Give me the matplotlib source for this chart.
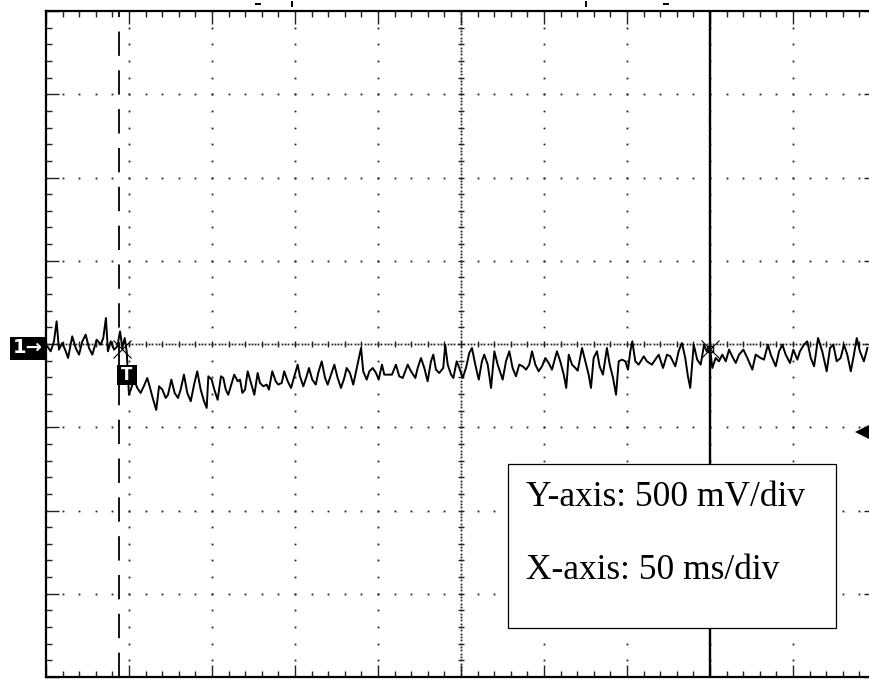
import numpy as np
import matplotlib.pyplot as plt
from matplotlib.patches import Rectangle
from matplotlib.transforms import blended_transform_factory

# Channel 1 capture: time from left edge of screen (ms) and voltage (mV)
t_ms = [
    # before trigger
    0.8, 2.8, 4.8, 6.4, 7.8, 9.8, 11.9, 13.3, 15.8, 17.9, 19.9, 21.9, 23.9,
    25.9, 27.9, 30.5, 33.0, 34.5, 36.1, 37.3, 39.0, 41.0, 43.0, 44.6, 46.0,
    47.4, 48.6,
    # drop after trigger
    50.0, 51.4, 53.0, 55.0, 57.0, 59.0, 61.0, 62.7, 64.0, 66.4, 68.1, 70.1,
    72.1, 73.5, 75.5, 77.5, 79.5, 81.1, 83.1, 85.1, 87.2, 89.2, 91.1, 93.2,
    95.2, 96.8,
    97.8, 99.8, 101.4, 103.4, 105.4, 106.8, 108.3, 109.8, 111.9, 113.4, 115.5,
    116.9, 118.3, 119.9, 121.5, 123.5, 125.5, 127.5, 128.9, 130.9, 133.0,
    134.3, 136.3, 138.4, 139.9, 142.0, 143.5, 145.6, 147.6, 149.6, 151.6,
    153.0, 155.0, 157.0, 158.4, 160.4, 162.5, 164.0, 166.1, 168.1, 169.7,
    171.7, 173.7, 175.7, 177.7, 179.7, 181.1, 183.1, 185.1, 187.2, 188.7,
    189.8, 191.1, 193.2,
    194.8, 196.8, 198.8, 200.4, 202.4, 203.8, 205.8, 208.4, 210.8, 212.8,
    214.9, 217.9, 219.9, 222.5, 223.9, 225.9, 227.9, 229.9, 231.9, 233.3,
    234.9, 236.9, 239.3, 240.5, 242.0, 244.0, 245.4, 247.4, 249.0, 251.0,
    253.0, 255.0, 256.6, 258.6, 260.7, 262.6, 264.0, 266.1, 268.1, 270.1,
    272.1, 275.1, 277.1, 279.1, 281.1, 283.1, 285.1, 287.2, 289.2, 291.1,
    # recovery
    292.8, 294.8, 296.8, 298.8, 300.8, 302.8, 304.8, 307.8, 309.8, 311.9,
    313.4, 314.9, 316.9, 318.9, 320.3, 322.9, 324.9, 326.9, 328.3, 329.9,
    331.9, 333.5, 335.5, 337.9, 339.6, 341.6, 343.4, 345.0, 347.0, 349.0,
    350.6, 352.0, 353.2, 355.0, 357.0, 360.1, 362.0, 365.0, 367.0, 369.1,
    371.7, 374.1, 376.1, 379.1, 381.1, 383.1, 385.1, 386.7, 388.1, 390.2,
    392.3, 394.4, 396.4, 398.0, 400.0, 401.4, 403.4, 405.4, 407.4, 409.5,
    411.5, 413.4, 415.5, 417.5, 420.1, 422.5, 425.5, 427.5, 430.5, 432.5,
    434.9, 436.6, 439.6, 441.6, 443.6, 445.6, 448.2, 450.2, 452.6, 454.2,
    456.6, 458.6, 460.7, 462.7, 465.1, 467.6, 470.3, 472.3, 474.3, 476.3,
    478.7, 480.7, 482.7, 484.8, 486.7, 488.4, 490.3, 492.7, 494.8,
]
v_mv = [
    -14, -44, 16, 136, -34, 6, -44, -84, 46, -24, -64, 16, 56,
    -24, -64, 26, -4, 36, 156, -44, 16, -34, -14, 76, -24,
    36, -44,
    -305, -264, -214, -264, -294, -252, -204, -264, -314, -396, -254, -274,
    -324, -305, -214, -294, -324, -274, -184, -294, -344, -244, -164, -274,
    -344, -384,
    -194, -214, -274, -335, -194, -204, -274, -305, -234, -184, -224,
    -214, -294, -274, -164, -234, -305, -174, -234, -254, -244,
    -274, -164, -224, -244, -234, -164, -224, -264, -194, -124,
    -194, -254, -194, -144, -214, -244, -174, -104, -204, -244,
    -184, -124, -204, -264, -204, -144, -174, -244, -144, -74,
    -24, -164, -214,
    -164, -144, -174, -214, -124, -184, -184, -184, -124, -194,
    -204, -124, -164, -204, -144, -84, -144, -224, -104, -64,
    -154, -174, -144, -4, -124, -184, -204, -104, -144, -204,
    -144, -54, -24, -124, -214, -104, -64, -124, -264, -44,
    -124, -214, -104, -44, -144, -194, -124, -134, -154, -124,
    -44, -124, -164, -134, -84, -114, -154, -44, -104, -184,
    -264, -64, -124, -144, -160, -24, -104, -184, -264, -84,
    -44, -134, -184, -24, -124, -204, -305, -104, -94, -104,
    -154, -44, 16, -104, -124, -74, -104, -124, -94, -64,
    -144, -64, -74, -134, -44, 6, -84, -194, -264, -4,
    -94, -124, -4, -44, -24, -144, -84, -104, -64, -104,
    -34, -74, -114, -64, -34, -84, -154, -64, -84, -94,
    -4, -64, -134, -44, -4, -64, -114, -34, -94, -44,
    -4, 16, -84, -134, 36, -44, -164, -24, -4, -104,
    -84, -4, -64, -164, -64, 36, -44, -104, -24,
]

ms_per_div = 50
mv_per_div = 500
n_xdiv, n_ydiv = 10, 8
trigger_ms = 44          # trigger point (dashed line)
cursor_ms = 400          # time cursor (solid line)
trig_level_mv = -528     # trigger level arrow on the right
top_marks_ms = [127.7, 148.2, 325.3, 373.5]
top_marks_sym = ['_', '|', '|', '_']
labels = ["Y-axis: 500 mV/div", "X-axis: 50 ms/div"]

W, H = 869, 679
fig = plt.figure(figsize=(W / 100, H / 100), dpi=100)
fig.patch.set_facecolor('white')


def fig_xy(x, y):
    return x / W, 1 - y / H


ax = fig.add_axes([46 / W, 2 / H, 830 / W, 666 / H])
xmax = n_xdiv * ms_per_div
ymax = n_ydiv / 2 * mv_per_div
ax.set_xlim(0, xmax)
ax.set_ylim(-ymax, ymax)
for s in ax.spines.values():
    s.set_linewidth(1.6)

# graticule: dotted division lines
xmaj = np.arange(0, xmax + 1, ms_per_div)
ymaj = np.arange(-ymax, ymax + 1, mv_per_div)
xmin_ = np.arange(0, xmax + 1, ms_per_div / 5)
ymin_ = np.arange(-ymax, ymax + 1, mv_per_div / 5)
dot = dict(marker='s', ms=1.3, mew=0, color='#222222', ls='none')
for x in xmaj[1:-1]:
    if x != xmax / 2:
        ax.plot(np.full(len(ymin_), x), ymin_, **dot)
for y in ymaj[1:-1]:
    if y != 0:
        ax.plot(xmin_, np.full(len(xmin_), y), **dot)

# centre cross: finer dots with minor ticks
xfine = np.arange(0, xmax + 0.1, ms_per_div / 25)
yfine = np.arange(-ymax, ymax + 0.1, mv_per_div / 25)
ax.plot(xfine, np.zeros(len(xfine)), **dot)
ax.plot(np.full(len(yfine), xmax / 2), yfine, **dot)
ax.plot(xmin_, np.zeros(len(xmin_)), marker='|', ms=4.5, mew=1.0,
        color='#222222', ls='none')
ax.plot(np.full(len(ymin_), xmax / 2), ymin_, marker='_', ms=4.5, mew=1.0,
        color='#222222', ls='none')

ax.set_xticks(xmaj)
ax.set_yticks(ymaj)
ax.set_xticks(xmin_, minor=True)
ax.set_yticks(ymin_, minor=True)
ax.tick_params(which='both', direction='in', top=True, right=True,
               labelbottom=False, labelleft=False, color='#222222')
ax.tick_params(which='major', length=9, width=1.0)
ax.tick_params(which='minor', length=4, width=1.0)

# trigger position and time cursor
ax.plot([trigger_ms, trigger_ms], [-ymax, ymax], color='k', lw=1.3,
        dashes=(13.5, 8))
ax.axvline(cursor_ms, color='k', lw=1.7)

# signal
ax.plot(t_ms, v_mv, color='k', lw=1.4, zorder=3)

# cursor crossings
ax.plot([trigger_ms + 2], [-30], marker='x', ms=13, mew=0.8, color='k',
        zorder=4)
ax.plot([cursor_ms], [-30], marker='x', ms=13, mew=0.8, color='k', zorder=4)
ax.plot([cursor_ms], [-30], marker='s', ms=4, mew=1, mfc='none', color='k',
        zorder=4)

# trigger level arrow
ax.plot([491.6], [trig_level_mv], marker='<', ms=10, color='k', mew=0,
        clip_on=False, zorder=4)

# marks along the top edge
tr = blended_transform_factory(ax.transData, ax.transAxes)
for xm, sym in zip(top_marks_ms, top_marks_sym):
    ax.plot([xm], [1.011], marker=sym, ms=4.5, mew=1.4, color='k',
            transform=tr, clip_on=False)

# channel 1 ground marker
x0, y0 = fig_xy(10, 360)
fig.add_artist(Rectangle((x0, y0), 35 / W, 23 / H, transform=fig.transFigure,
                         facecolor='black', edgecolor='none'))
fig.text(28 / W, 1 - 348 / H, "1\u2192", color='white', fontsize=14,
         fontweight='bold', ha='center', va='center')

# trigger marker box
x0, y0 = fig_xy(117, 385)
fig.add_artist(Rectangle((x0, y0), 20 / W, 20 / H, transform=fig.transFigure,
                         facecolor='black', edgecolor='none', zorder=5))
fig.text(127 / W, 1 - 375 / H, "T", color='white', fontsize=12,
         fontweight='bold', ha='center', va='center', zorder=6)

# scale annotation
x0, y0 = fig_xy(508, 628)
fig.add_artist(Rectangle((x0, y0), 328 / W, 164 / H, transform=fig.transFigure,
                         facecolor='white', edgecolor='black', lw=0.9,
                         zorder=7))
for i, txt in enumerate(labels):
    fig.text(526 / W, 1 - (506 + 73 * i) / H, txt, fontsize=25.5,
             family='Liberation Serif', va='baseline', ha='left', zorder=8)

fig.savefig('out.png', dpi=100)
